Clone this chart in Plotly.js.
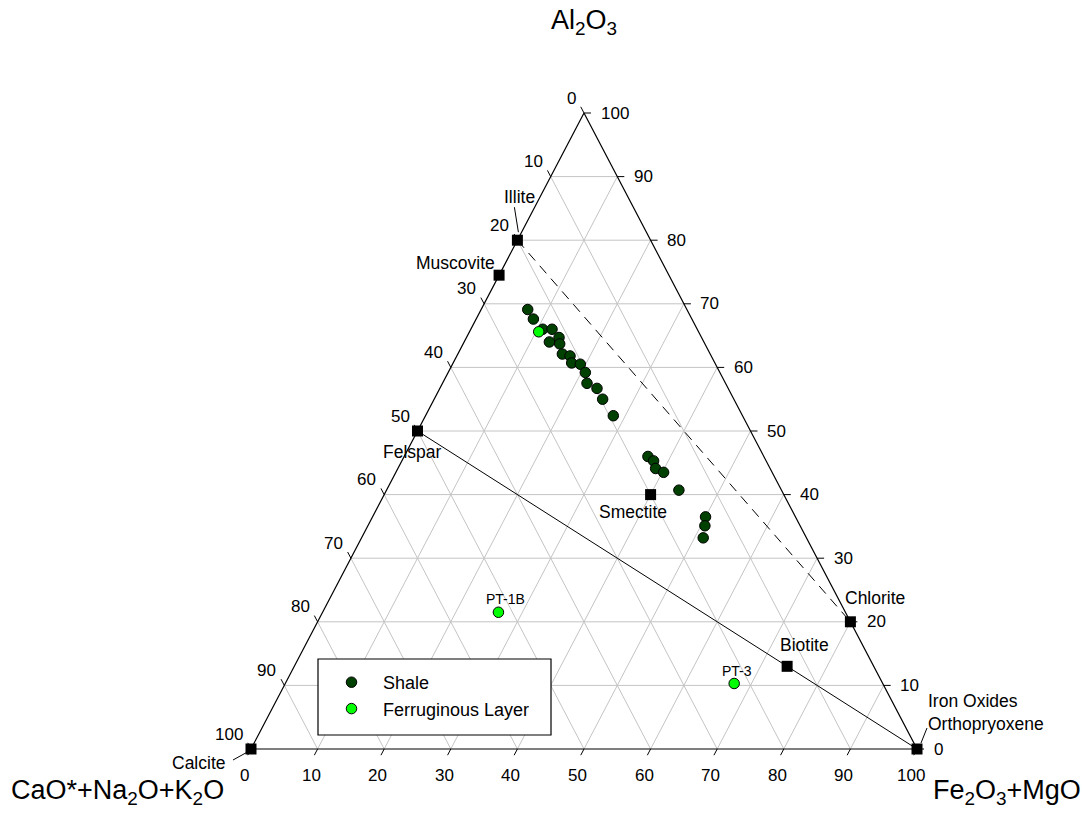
<!DOCTYPE html>
<html><head><meta charset="utf-8">
<script src="https://cdn.plot.ly/plotly-3.0.1.min.js"></script>
<style>html,body{margin:0;padding:0;background:#fff;}#chart{width:1087px;height:818px;}</style>
</head><body><div id="chart"></div>
<script>
// ---------- DATA (percent: Al2O3 / CaO*+Na2O+K2O / Fe2O3+MgO) ----------
const shaleAl2O3 = [69.1, 67.6, 66.0, 66.0, 64.7, 64.0, 63.7, 62.1, 61.8, 60.7, 60.5, 59.2, 57.5, 56.7, 55.0, 52.4, 46.0, 45.3, 44.1, 43.5, 40.7, 36.5, 35.1, 33.2];
const shaleCNK    = [23.9, 23.8, 23.2, 21.8, 21.4, 23.2, 21.8, 22.2, 21.2, 21.5, 20.3, 20.2, 20.8, 19.7, 19.7, 19.4, 17.4, 16.9, 17.2, 16.3, 15.4, 13.5, 14.3, 15.5];
const shaleFM     = [7.0, 8.6, 10.8, 12.2, 13.9, 12.8, 14.5, 15.7, 17.0, 17.8, 19.2, 20.6, 21.7, 23.6, 25.3, 28.2, 36.6, 37.8, 38.7, 40.2, 43.9, 50.0, 50.6, 51.3];

const ferrAl2O3 = [65.6, 21.5, 10.3];
const ferrCNK   = [24.0, 52.1, 22.3];
const ferrFM    = [10.4, 26.4, 67.4];
const ferrLabels = ['', 'PT-1B', 'PT-3'];

const mineralNames  = ['Illite', 'Muscovite', 'Felspar', 'Smectite', 'Chlorite', 'Biotite', 'Iron Oxides<br>Orthopryoxene', 'Calcite'];
const mineralAl2O3  = [80, 74.5, 50, 40, 20, 13, 0, 0];
const mineralCNK    = [20, 25.5, 50, 20, 0, 13, 0, 100];
const mineralFM     = [0, 0, 0, 40, 80, 74, 100, 0];

const tieSolid  = ['Felspar', 'Iron Oxides<br>Orthopryoxene'];
const tieDashed = ['Illite', 'Chlorite'];

const ticks = [0, 10, 20, 30, 40, 50, 60, 70, 80, 90, 100];

const titleTop   = 'Al<sub>2</sub>O<sub>3</sub>';
const titleLeft  = 'CaO*+Na<sub>2</sub>O+K<sub>2</sub>O';
const titleRight = 'Fe<sub>2</sub>O<sub>3</sub>+MgO';
const seriesNames = ['Shale', 'Ferruginous Layer'];

// ---------- STYLE ----------
const W = 1087, H = 818;
const XR = [-37.688, 125.526], YR = [-10.849, 117.767];
const SX = W / (XR[1] - XR[0]), SY = H / (YR[1] - YR[0]);
const FONT = 'Liberation Sans, Arial, sans-serif';
const TICKLEN = 7;
const labelStyle = {
  'Illite':    {anchor: 'center', dx: 2, dy: -43},
  'Muscovite': {anchor: 'right', dx: -2, dy: -12.5},
  'Felspar':   {anchor: 'center', dx: -5.5, dy: 21},
  'Smectite':  {anchor: 'center', dx: -18, dy: 17},
  'Chlorite':  {anchor: 'left', dx: -7, dy: -24},
  'Biotite':   {anchor: 'left', dx: -9.5, dy: -21},
  'Iron Oxides<br>Orthopryoxene': {anchor: 'left', dx: 9, dy: -37},
  'Calcite':   {anchor: 'right', dx: -23, dy: 13.5}
};
const leaderStyle = {
  'Illite': [[-3, -33], [1, -8]],
  'Calcite': [[-18, 11], [-3, 2.7]],
  'Iron Oxides<br>Orthopryoxene': [[10, -21], [4, -6]]
};
const ptLabelShift = {'PT-1B': [7, -13], 'PT-3': [3, -12.5]};

// ---------- PROJECTION ----------
function tern(a, b, c) {
  const s = a + b + c;
  const A = a / s * 100, C = c / s * 100;
  return [C + A / 2, A];
}
function pushSeg(xs, ys, p, q) { xs.push(p[0], q[0], null); ys.push(p[1], q[1], null); }

const traces = [];

// grid lines
const gx = [], gy = [];
ticks.filter(t => t > 0 && t < 100).forEach(t => {
  pushSeg(gx, gy, tern(t, 100 - t, 0), tern(t, 0, 100 - t));
  pushSeg(gx, gy, tern(100 - t, t, 0), tern(0, t, 100 - t));
  pushSeg(gx, gy, tern(100 - t, 0, t), tern(0, 100 - t, t));
});
traces.push({x: gx, y: gy, mode: 'lines', line: {color: '#c4c4c4', width: 1}, showlegend: false, hoverinfo: 'skip'});

// tie lines
function mineralPt(name) {
  const i = mineralNames.indexOf(name);
  return tern(mineralAl2O3[i], mineralCNK[i], mineralFM[i]);
}
const s0 = mineralPt(tieSolid[0]), s1 = mineralPt(tieSolid[1]);
traces.push({x: [s0[0], s1[0]], y: [s0[1], s1[1]], mode: 'lines', line: {color: '#000', width: 1}, showlegend: false, hoverinfo: 'skip'});
const d0 = mineralPt(tieDashed[0]), d1 = mineralPt(tieDashed[1]);
traces.push({x: [d0[0], d1[0]], y: [d0[1], d1[1]], mode: 'lines', line: {color: '#000', width: 1, dash: '10px,7px'}, showlegend: false, hoverinfo: 'skip'});

// triangle border
const vTop = tern(100, 0, 0), vLeft = tern(0, 100, 0), vRight = tern(0, 0, 100);
traces.push({x: [vTop[0], vLeft[0], vRight[0], vTop[0]], y: [vTop[1], vLeft[1], vRight[1], vTop[1]], mode: 'lines', line: {color: '#000', width: 1.2}, showlegend: false, hoverinfo: 'skip'});

// ticks
const edgePx = Math.hypot(50 * SX, 100 * SY);
const k = TICKLEN / edgePx;
const tx = [], ty = [];
const annotations = [];
const tickFont = {family: FONT, size: 17, color: '#000'};
ticks.forEach(t => {
  // Al2O3 on right edge
  const pa = tern(t, 0, 100 - t);
  pushSeg(tx, ty, pa, [pa[0] + TICKLEN / SX, pa[1]]);
  annotations.push({x: pa[0], y: pa[1], xref: 'x', yref: 'y', text: String(t), showarrow: false, xanchor: 'left', yanchor: 'middle', xshift: 14.5, yshift: 0, font: tickFont});
  // CaO* on left edge
  const pb = tern(100 - t, t, 0);
  pushSeg(tx, ty, pb, [pb[0] - 50 * k, pb[1] + 100 * k]);
  annotations.push({x: pb[0], y: pb[1], xref: 'x', yref: 'y', text: String(t), showarrow: false, xanchor: 'right', yanchor: 'middle', xshift: -6, yshift: 15, font: tickFont});
  // Fe2O3+MgO on bottom edge
  const pc = tern(0, 100 - t, t);
  pushSeg(tx, ty, pc, [pc[0] - 50 * k, pc[1] - 100 * k]);
  annotations.push({x: pc[0], y: pc[1], xref: 'x', yref: 'y', text: String(t), showarrow: false, xanchor: 'center', yanchor: 'middle', xshift: -6.5, yshift: -26, font: tickFont});
});
traces.push({x: tx, y: ty, mode: 'lines', line: {color: '#000', width: 1}, showlegend: false, hoverinfo: 'skip'});

// leader lines
const lx = [], ly = [];
Object.keys(leaderStyle).forEach(name => {
  const p = mineralPt(name);
  const [[x0, y0], [x1, y1]] = leaderStyle[name];
  pushSeg(lx, ly, [p[0] + x0 / SX, p[1] - y0 / SY], [p[0] + x1 / SX, p[1] - y1 / SY]);
});
traces.push({x: lx, y: ly, mode: 'lines', line: {color: '#000', width: 1}, showlegend: false, hoverinfo: 'skip'});

// minerals (squares)
const mPts = mineralNames.map((n, i) => tern(mineralAl2O3[i], mineralCNK[i], mineralFM[i]));
traces.push({x: mPts.map(p => p[0]), y: mPts.map(p => p[1]), mode: 'markers', marker: {symbol: 'square', size: 11, color: '#000'}, showlegend: false, hoverinfo: 'skip', cliponaxis: false});
mineralNames.forEach((n, i) => {
  const st = labelStyle[n];
  annotations.push({x: mPts[i][0], y: mPts[i][1], xref: 'x', yref: 'y', text: n, showarrow: false, xanchor: st.anchor, yanchor: 'middle', align: 'left', xshift: st.dx, yshift: -st.dy, font: {family: FONT, size: 17.5, color: '#000'}});
});

// samples
const shPts = shaleAl2O3.map((a, i) => tern(a, shaleCNK[i], shaleFM[i]));
traces.push({name: seriesNames[0], x: shPts.map(p => p[0]), y: shPts.map(p => p[1]), mode: 'markers', marker: {symbol: 'circle', size: 10.5, color: '#004000', line: {color: '#000', width: 1}}, cliponaxis: false});
const fePts = ferrAl2O3.map((a, i) => tern(a, ferrCNK[i], ferrFM[i]));
traces.push({name: seriesNames[1], x: fePts.map(p => p[0]), y: fePts.map(p => p[1]), mode: 'markers', marker: {symbol: 'circle', size: 10.5, color: '#00ff00', line: {color: '#000', width: 1}}, cliponaxis: false});
ferrLabels.forEach((lab, i) => {
  if (!lab) return;
  const sh = ptLabelShift[lab];
  annotations.push({x: fePts[i][0], y: fePts[i][1], xref: 'x', yref: 'y', text: lab, showarrow: false, xanchor: 'center', yanchor: 'middle', xshift: sh[0], yshift: -sh[1], font: {family: FONT, size: 14, color: '#000'}});
});

// axis titles
const titleFont = {family: FONT, size: 27, color: '#000'};
annotations.push({x: 584 / W, y: 1 - 22 / H, xref: 'paper', yref: 'paper', text: titleTop, showarrow: false, xanchor: 'center', yanchor: 'middle', font: titleFont});
annotations.push({x: 117 / W, y: 1 - 792 / H, xref: 'paper', yref: 'paper', text: titleLeft, showarrow: false, xanchor: 'center', yanchor: 'middle', font: titleFont});
annotations.push({x: 1007 / W, y: 1 - 792 / H, xref: 'paper', yref: 'paper', text: titleRight, showarrow: false, xanchor: 'center', yanchor: 'middle', font: titleFont});

const shapes = [{type: 'rect', xref: 'paper', yref: 'paper', x0: 318 / W, x1: 551 / W, y0: 1 - 735 / H, y1: 1 - 659 / H, fillcolor: '#fff', line: {color: '#000', width: 1.2}, layer: 'above'}];

const layout = {
  width: W, height: H, margin: {l: 0, r: 0, t: 0, b: 0},
  paper_bgcolor: '#fff', plot_bgcolor: '#fff',
  font: {family: FONT, color: '#000'},
  xaxis: {range: XR, visible: false, fixedrange: true},
  yaxis: {range: YR, visible: false, fixedrange: true},
  showlegend: true,
  legend: {x: 320 / W, y: 1 - 664 / H, xanchor: 'left', yanchor: 'top', bgcolor: 'rgba(0,0,0,0)', borderwidth: 0, itemwidth: 53, font: {family: FONT, size: 18, color: '#000'}},
  shapes: shapes,
  annotations: annotations
};
Plotly.newPlot('chart', traces, layout, {staticPlot: true});
</script></body></html>
